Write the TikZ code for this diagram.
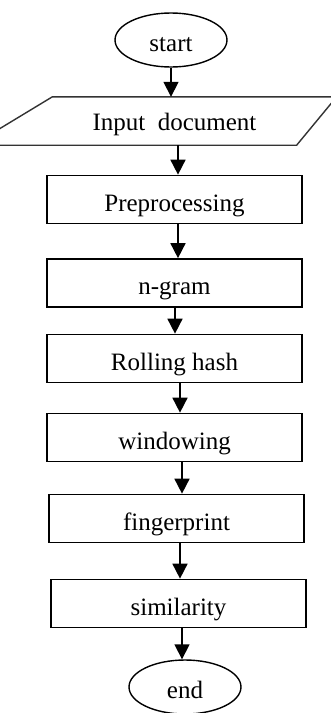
\documentclass[tikz,border=0pt]{standalone}
\usepackage{fontspec}
\setmainfont{Liberation Serif}
\usetikzlibrary{shapes.geometric,arrows.meta,calc}

\tikzset{
  lbl/.style={font=\fontsize{25}{29}\selectfont, text=black,
              text height=23pt, text depth=0pt},
  stepbox/.style={lbl, draw=black, line width=1.7pt, rectangle, inner sep=0pt,
                  minimum width=255pt, minimum height=48pt},
  term/.style={lbl, draw=black, line width=1.4pt, ellipse, inner sep=0pt,
               minimum width=112pt, minimum height=54pt},
  io/.style={lbl, inner sep=0pt, minimum width=160pt, minimum height=48pt,
             text height=19pt},
  arr/.style={draw=black, line width=1.7pt, -{Triangle[length=15pt,width=15pt]}},
}

\begin{document}
\begin{tikzpicture}[x=1pt, y=-1pt]
  \useasboundingbox (0,0) rectangle (330,713);
  \fill[white] (0,0) rectangle (330,713);

  % flowchart nodes, top to bottom
  \node[term]    (start) at (171,40)      {start};
  \node[io]      (inp)   at (174.5,121)   {Input\ \ document};
  \node[stepbox] (pre)   at (174.5,199.5) {Preprocessing};
  \node[stepbox] (ngram) at (174.5,283)   {n-gram};
  \node[stepbox] (roll)  at (174.5,358.5) {Rolling hash};
  \node[stepbox] (win)   at (174.5,437.5) {windowing};
  \node[stepbox] (fin)   at (176.5,518.5) {fingerprint};
  \node[stepbox] (sim)   at (178.5,603.5) {similarity};
  \node[term]    (stop)  at (185,687)     {end};

  % input parallelogram around the text node
  \draw[line width=1.4pt, draw=black!80, line join=miter]
    ($(inp.north west)+(-40,0)$) -- ($(inp.north east)+(80,0)$) --
    ($(inp.south east)+(40,0)$) -- ($(inp.south west)+(-120,0)$) -- cycle;

  % connectors
  \draw[arr] (start.south) -- (start.south |- inp.north);
  \draw[arr] ([xshift=3.5pt]inp.south) -- ([xshift=3.5pt]inp.south |- pre.north);
  \draw[arr] ([xshift=3.5pt]pre.south) -- ([xshift=3.5pt]pre.south |- ngram.north);
  \draw[arr] ([xshift=0.5pt]ngram.south) -- ([xshift=0.5pt]ngram.south |- roll.north);
  \draw[arr] ([xshift=5.5pt]roll.south) -- ([xshift=5.5pt]roll.south |- win.north);
  \draw[arr] ([xshift=7.5pt]win.south) -- ([xshift=7.5pt]win.south |- fin.north);
  \draw[arr] ([xshift=3.5pt]fin.south) -- ([xshift=3.5pt]fin.south |- sim.north);
  \draw[arr] ([xshift=3.5pt]sim.south) -- ([xshift=3.5pt]sim.south |- stop.north);
\end{tikzpicture}
\end{document}
